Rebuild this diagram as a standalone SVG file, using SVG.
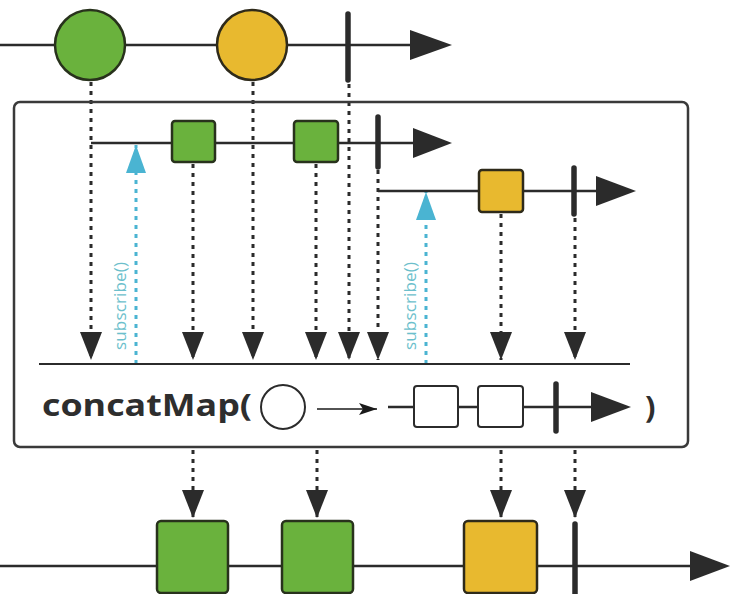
<svg xmlns="http://www.w3.org/2000/svg" width="736" height="594" viewBox="0 0 736 594">
<defs>
<style>
.line{stroke:#2b2b2b;stroke-width:2.5;fill:none}
.bar{stroke:#2b2b2b;stroke-width:5.5;stroke-linecap:round}
.head{fill:#2b2b2b}
.dot{stroke:#2b2b2b;stroke-width:3;stroke-dasharray:4 5;fill:none}
.sub{stroke:#4ab4d2;stroke-width:3;stroke-dasharray:4 5;fill:none}
.green{fill:#6ab23d;stroke:#28321c;stroke-width:2.5}
.yellow{fill:#e8b92f;stroke:#2e2a1a;stroke-width:2.5}
.white{fill:#fff;stroke:#2b2b2b;stroke-width:2}
.subtxt{font-family:"Open Sans","Liberation Sans",sans-serif;font-size:17px;fill:#6cbfcc}
.op{font-family:"Open Sans","DejaVu Sans",sans-serif;font-weight:bold;font-size:31px;fill:#2e2e2e}
</style>
<marker id="ah" markerUnits="userSpaceOnUse" markerWidth="28" markerHeight="22" refX="28" refY="11" orient="auto">
<path d="M0,0 L28,11 L0,22 z" fill="#2b2b2b"/>
</marker>
<marker id="bh" markerUnits="userSpaceOnUse" markerWidth="28" markerHeight="22" refX="28" refY="11" orient="auto">
<path d="M0,1 L28,11 L0,21 z" fill="#4ab4d2"/>
</marker>
<marker id="sh" markerUnits="userSpaceOnUse" markerWidth="18" markerHeight="12" refX="18" refY="6" orient="auto">
<path d="M0,0 L18,6 L0,12 L4,6 z" fill="#1a1a1a"/>
</marker>
</defs>

<g id="connectors">
<line class="dot" x1="91" y1="82" x2="91" y2="360" marker-end="url(#ah)"/>
<line class="dot" x1="253" y1="82" x2="253" y2="360" marker-end="url(#ah)"/>
<line class="dot" x1="349" y1="84" x2="349" y2="360" marker-end="url(#ah)"/>
<line class="dot" x1="193" y1="164" x2="193" y2="360" marker-end="url(#ah)"/>
<line class="dot" x1="316" y1="164" x2="316" y2="360" marker-end="url(#ah)"/>
<line class="dot" x1="378" y1="170" x2="378" y2="360" marker-end="url(#ah)"/>
<line class="dot" x1="501" y1="214" x2="501" y2="360" marker-end="url(#ah)"/>
<line class="dot" x1="575" y1="218" x2="575" y2="360" marker-end="url(#ah)"/>
<line class="sub" x1="136" y1="364" x2="136" y2="145" marker-end="url(#bh)"/>
<line class="sub" x1="426" y1="364" x2="426" y2="192" marker-end="url(#bh)"/>
<line class="dot" x1="193" y1="450" x2="193" y2="518" marker-end="url(#ah)"/>
<line class="dot" x1="317" y1="450" x2="317" y2="518" marker-end="url(#ah)"/>
<line class="dot" x1="501" y1="450" x2="501" y2="518" marker-end="url(#ah)"/>
<line class="dot" x1="575" y1="450" x2="575" y2="518" marker-end="url(#ah)"/>
</g>

<g id="source">
<line class="line" x1="0" y1="45" x2="412" y2="45"/>
<polygon class="head" points="410,30 452,45 410,60"/>
<circle class="green" cx="90" cy="45" r="35"/>
<circle class="yellow" cx="252" cy="45" r="35"/>
<line class="bar" x1="348" y1="14" x2="348" y2="80"/>
</g>

<g id="operator">
<rect x="14" y="102" width="674" height="345" rx="6" fill="none" stroke="#3a3a3a" stroke-width="2.5"/>
<line x1="39" y1="364" x2="630" y2="364" stroke="#2b2b2b" stroke-width="2.2"/>
</g>

<g id="inner1">
<line class="line" x1="91" y1="143" x2="415" y2="143"/>
<polygon class="head" points="413,128 452,143 413,158"/>
<rect class="green" x="172" y="121" width="43" height="41" rx="3"/>
<rect class="green" x="294" y="121" width="44" height="41" rx="3"/>
<line class="bar" x1="378" y1="117" x2="378" y2="167"/>
</g>

<g id="inner2">
<line class="line" x1="378" y1="191" x2="598" y2="191"/>
<polygon class="head" points="596,176 636,191 596,206"/>
<rect class="yellow" x="479" y="170" width="44" height="42" rx="3"/>
<line class="bar" x1="574" y1="168" x2="574" y2="214"/>
</g>

<g id="subscribe1">
<text class="subtxt" transform="translate(126,350) rotate(-90)" textLength="88" lengthAdjust="spacing">subscribe()</text>
</g>
<g id="subscribe2">
<text class="subtxt" transform="translate(416,350) rotate(-90)" textLength="88" lengthAdjust="spacing">subscribe()</text>
</g>

<g id="label">
<text class="op" x="42" y="416" textLength="210" lengthAdjust="spacingAndGlyphs">concatMap(</text>
<circle class="white" cx="283" cy="407" r="22"/>
<line x1="317" y1="409" x2="377" y2="409" stroke="#1a1a1a" stroke-width="1.5" marker-end="url(#sh)"/>
<line class="line" x1="388" y1="407" x2="593" y2="407"/>
<rect class="white" x="414" y="386" width="44" height="41" rx="3"/>
<rect class="white" x="478" y="386" width="45" height="41" rx="3"/>
<line class="bar" x1="556" y1="384" x2="556" y2="431"/>
<polygon class="head" points="591,392 631,407 591,422"/>
<text class="op" x="645" y="418">)</text>
</g>

<g id="result">
<line class="line" x1="0" y1="566" x2="692" y2="566"/>
<polygon class="head" points="690,551 730,566 690,581"/>
<rect class="green" x="157" y="521" width="71" height="72" rx="4"/>
<rect class="green" x="282" y="521" width="71" height="72" rx="4"/>
<rect class="yellow" x="464" y="521" width="73" height="72" rx="4"/>
<line class="bar" x1="575" y1="524" x2="575" y2="600"/>
</g>
</svg>
